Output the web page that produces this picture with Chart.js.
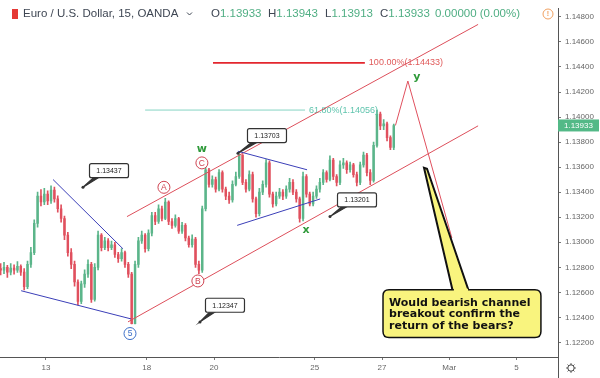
<!DOCTYPE html>
<html><head><meta charset="utf-8">
<script src="https://cdn.jsdelivr.net/npm/chart.js@4"></script>
<style>html,body{margin:0;padding:0;background:#fff;overflow:hidden}canvas{display:block}</style>
</head><body><canvas id="c" width="600" height="378"></canvas>
<script>
// ---- axis ticks (trading-day index, weekends removed) ----
const dayTicks = [0, 3, 5, 8, 10, 12, 14];
const dayLabels = ['13', '18', '20', '25', '27', 'Mar', '5'];
const priceTicks = [1.122, 1.124, 1.126, 1.128, 1.130, 1.132, 1.134, 1.136, 1.138, 1.140, 1.142, 1.144, 1.146, 1.148];

// ---- price series (one bar per 0.1 trading day) ----
const firstDay = -1.35;
const barStep = 0.1;
const firstOpen = 1.12790;
const closes = [
  1.12777, 1.12800, 1.12761, 1.12793, 1.12777, 1.12808, 1.12761, 1.12645, 1.12824, 1.12917,
  1.13151, 1.13369, 1.13322, 1.13385, 1.13330, 1.13416, 1.13346, 1.13268, 1.13190, 1.13057,
  1.12917, 1.12824, 1.12683, 1.12528, 1.12668, 1.12746, 1.12824, 1.12543, 1.12800, 1.13057,
  1.12956, 1.13011, 1.12956, 1.12980, 1.12902, 1.12870, 1.12917, 1.12824, 1.12746, 1.12350,
  1.12824, 1.13011, 1.13057, 1.12948, 1.13073, 1.13213, 1.13166, 1.13268, 1.13190, 1.13322,
  1.13166, 1.13135, 1.13190, 1.13089, 1.13135, 1.13034, 1.12980, 1.13026, 1.12824, 1.12777,
  1.13268, 1.13579, 1.13462, 1.13501, 1.13424, 1.13556, 1.13424, 1.13369, 1.13338, 1.13462,
  1.13525, 1.13696, 1.13478, 1.13424, 1.13540, 1.13346, 1.13229, 1.13400, 1.13462, 1.13634,
  1.13385, 1.13307, 1.13369, 1.13400, 1.13369, 1.13424, 1.13478, 1.13400, 1.13346, 1.13190,
  1.13525, 1.13385, 1.13307, 1.13369, 1.13424, 1.13478, 1.13556, 1.13501, 1.13657, 1.13525,
  1.13478, 1.13618, 1.13634, 1.13579, 1.13618, 1.13540, 1.13478, 1.13618, 1.13696, 1.13556,
  1.13494, 1.13774, 1.14023, 1.13930, 1.13945, 1.13836, 1.13758, 1.13933
];
const highs = [
  1.12830, 1.12840, 1.12815, 1.12830, 1.12820, 1.12845, 1.12820, 1.12790, 1.12850, 1.12960,
  1.13180, 1.13400, 1.13420, 1.13430, 1.13410, 1.13450, 1.13440, 1.13370, 1.13300, 1.13210,
  1.13080, 1.12950, 1.12850, 1.12700, 1.12690, 1.12780, 1.12860, 1.12840, 1.12830, 1.13090,
  1.13070, 1.13040, 1.13030, 1.13010, 1.13000, 1.12920, 1.12950, 1.12930, 1.12840, 1.12760,
  1.12850, 1.13040, 1.13090, 1.13070, 1.13100, 1.13240, 1.13240, 1.13300, 1.13290, 1.13350,
  1.13330, 1.13190, 1.13220, 1.13200, 1.13160, 1.13150, 1.13050, 1.13060, 1.13040, 1.12850,
  1.13290, 1.13600, 1.13590, 1.13530, 1.13520, 1.13580, 1.13570, 1.13440, 1.13400, 1.13490,
  1.13560, 1.13703, 1.13700, 1.13500, 1.13570, 1.13560, 1.13360, 1.13430, 1.13490, 1.13660,
  1.13650, 1.13400, 1.13400, 1.13430, 1.13420, 1.13450, 1.13510, 1.13500, 1.13420, 1.13360,
  1.13560, 1.13540, 1.13400, 1.13400, 1.13450, 1.13510, 1.13580, 1.13570, 1.13690, 1.13670,
  1.13540, 1.13650, 1.13670, 1.13650, 1.13640, 1.13630, 1.13560, 1.13640, 1.13720, 1.13710,
  1.13580, 1.13800, 1.14056, 1.14040, 1.13980, 1.13960, 1.13850, 1.13943
];
const lows = [
  1.12740, 1.12750, 1.12720, 1.12740, 1.12745, 1.12760, 1.12735, 1.12620, 1.12630, 1.12800,
  1.12900, 1.13120, 1.13290, 1.13300, 1.13300, 1.13310, 1.13320, 1.13240, 1.13160, 1.13020,
  1.12890, 1.12790, 1.12650, 1.12500, 1.12510, 1.12640, 1.12720, 1.12520, 1.12530, 1.12780,
  1.12930, 1.12940, 1.12930, 1.12940, 1.12880, 1.12840, 1.12850, 1.12800, 1.12720, 1.12347,
  1.12347, 1.12800, 1.12990, 1.12920, 1.12930, 1.13050, 1.13140, 1.13150, 1.13170, 1.13180,
  1.13140, 1.13110, 1.13120, 1.13070, 1.13070, 1.13010, 1.12960, 1.12960, 1.12800, 1.12750,
  1.12760, 1.13250, 1.13440, 1.13440, 1.13400, 1.13410, 1.13400, 1.13340, 1.13310, 1.13320,
  1.13450, 1.13510, 1.13460, 1.13400, 1.13410, 1.13320, 1.13200, 1.13210, 1.13380, 1.13440,
  1.13360, 1.13280, 1.13290, 1.13350, 1.13340, 1.13350, 1.13400, 1.13380, 1.13320, 1.13160,
  1.13170, 1.13360, 1.13290, 1.13290, 1.13350, 1.13400, 1.13460, 1.13480, 1.13490, 1.13500,
  1.13450, 1.13460, 1.13590, 1.13550, 1.13560, 1.13520, 1.13450, 1.13460, 1.13600, 1.13530,
  1.13460, 1.13480, 1.13760, 1.13900, 1.13900, 1.13810, 1.13740, 1.13740
];
const lastPrice = '1.13933';
const ohlc = [['O', '1.13933'], ['H', '1.13943'], ['L', '1.13913'], ['C', '1.13933']];
const changeText = '0.00000 (0.00%)';
const titleText = 'Euro / U.S. Dollar, 15, OANDA';

// ---- drawings (trading day, price) ----
const channelLines = [
  [2.41, 1.13205, 12.86, 1.14740],
  [2.44, 1.12364, 12.86, 1.13930]
];
const blueLines = [
  [0.21, 1.13501, 2.29, 1.12948],
  [-0.74, 1.12613, 2.53, 1.12388],
  [5.71, 1.13727, 7.77, 1.13579],
  [5.69, 1.13135, 8.16, 1.13346]
];
const fibLabels = ['100.00%(1.14433)', '61.80%(1.14056)'];
const fibPrices = [1.14433, 1.14056];
const fibFrom = [4.97, 2.95];
const fibTo = [9.49, 7.71];
const projection = [[10.40, 1.13933], [10.77, 1.14288], [12.08, 1.13034]];
const waveText = ['w', 'x', 'y'];
const wavePos = [[4.64, 1.13743], [7.74, 1.13096], [11.04, 1.14319]];
const circleText = ['A', 'C', 'B', '5'];
const circlePos = [[3.51, 1.13439], [4.64, 1.13634], [4.52, 1.12691], [2.50, 1.12271]];
const noteText = ['1.13437', '1.13703', '1.13201', '1.12347'];
const notePos = [[1.875, 1.13572], [6.577, 1.13852], [9.256, 1.13338], [5.327, 1.12497]];
const noteAnchor = [[1.101, 1.13439], [5.714, 1.13712], [8.452, 1.13205], [4.583, 1.12364]];
const calloutLines = ['Would bearish channel', 'breakout confirm the', 'return of the bears?'];
const calloutBox = [10.03, 1.12621, 14.73, 1.12239];
const calloutTip = [11.25, 1.13595];
const calloutBase = [12.11, 12.59];

const UP = '#5bb58a', DOWN = '#e0505e';

const bodies = closes.map((c, i) => ({ x: firstDay + i * barStep, y: [i === 0 ? firstOpen : closes[i - 1], c] }));
const wicks = closes.map((c, i) => ({ x: firstDay + i * barStep, y: [lows[i], highs[i]] }));
const colors = bodies.map(b => b.y[1] >= b.y[0] ? UP : DOWN);

function line(ctx, x1, y1, x2, y2) { ctx.beginPath(); ctx.moveTo(x1, y1); ctx.lineTo(x2, y2); ctx.stroke(); }
function rrect(ctx, x, y, w, h, r) {
  ctx.beginPath();
  ctx.moveTo(x + r, y); ctx.lineTo(x + w - r, y); ctx.quadraticCurveTo(x + w, y, x + w, y + r);
  ctx.lineTo(x + w, y + h - r); ctx.quadraticCurveTo(x + w, y + h, x + w - r, y + h);
  ctx.lineTo(x + r, y + h); ctx.quadraticCurveTo(x, y + h, x, y + h - r);
  ctx.lineTo(x, y + r); ctx.quadraticCurveTo(x, y, x + r, y); ctx.closePath();
}

const overlay = {
  id: 'overlay',
  afterDatasetsDraw(chart) {
    const { ctx, chartArea: a } = chart;
    const xs = chart.scales.x, ys = chart.scales.y;
    const X = d => xs.getPixelForValue(d), Y = p => ys.getPixelForValue(p);
    ctx.save();
    ctx.beginPath(); ctx.rect(a.left, a.top, a.right - a.left, a.bottom - a.top); ctx.clip();

    // fib levels
    fibPrices.forEach((p, i) => {
      ctx.strokeStyle = i === 0 ? '#e3262e' : '#86d4c4';
      ctx.lineWidth = i === 0 ? 1.6 : 1;
      line(ctx, X(fibFrom[i]), Y(p), X(fibTo[i]), Y(p));
      ctx.fillStyle = i === 0 ? '#e05a5a' : '#5fc4ad';
      ctx.font = '9px "Liberation Sans", Arial, sans-serif';
      ctx.textBaseline = 'middle'; ctx.textAlign = 'left';
      ctx.fillText(fibLabels[i], X(fibTo[i]) + 4, Y(p));
    });

    // channel
    ctx.strokeStyle = '#dd4f5b'; ctx.lineWidth = 1;
    channelLines.forEach(l => line(ctx, X(l[0]), Y(l[1]), X(l[2]), Y(l[3])));
    // blue lines
    ctx.strokeStyle = '#3b3fb8';
    blueLines.forEach(l => line(ctx, X(l[0]), Y(l[1]), X(l[2]), Y(l[3])));
    // projection
    ctx.strokeStyle = '#e0505e'; ctx.lineWidth = 1;
    ctx.beginPath();
    projection.forEach((p, i) => i ? ctx.lineTo(X(p[0]), Y(p[1])) : ctx.moveTo(X(p[0]), Y(p[1])));
    ctx.stroke();

    // wave labels
    ctx.fillStyle = '#2f9a3a'; ctx.font = 'bold 11px "DejaVu Sans", sans-serif';
    ctx.textAlign = 'center'; ctx.textBaseline = 'middle';
    waveText.forEach((t, i) => ctx.fillText(t, X(wavePos[i][0]), Y(wavePos[i][1])));

    // circle labels
    circleText.forEach((t, i) => {
      const cx = X(circlePos[i][0]), cy = Y(circlePos[i][1]);
      const col = t === '5' ? '#3c6fc8' : '#cf4452';
      ctx.fillStyle = '#fff'; ctx.strokeStyle = col; ctx.lineWidth = 1;
      ctx.beginPath(); ctx.arc(cx, cy, 6, 0, Math.PI * 2); ctx.fill(); ctx.stroke();
      ctx.fillStyle = col; ctx.font = '8.5px "Liberation Sans", Arial, sans-serif';
      ctx.fillText(t, cx, cy + 0.5);
    });

    // price notes
    noteText.forEach((t, i) => {
      const cx = X(notePos[i][0]), cy = Y(notePos[i][1]);
      const ax = X(noteAnchor[i][0]), ay = Y(noteAnchor[i][1]);
      const w = 39, h = 14, bx = cx - w / 2, by = cy - h / 2;
      ctx.strokeStyle = '#333'; ctx.lineWidth = 1.2;
      ctx.fillStyle = '#333';
      ctx.beginPath(); ctx.moveTo(bx + 4, by + h); ctx.lineTo(ax, ay); ctx.lineTo(bx + 9, by + h); ctx.closePath(); ctx.fill(); ctx.stroke();
      ctx.beginPath(); ctx.arc(ax, ay, 1.5, 0, Math.PI * 2); ctx.fill();
      ctx.fillStyle = '#fff';
      rrect(ctx, bx, by, w, h, 2); ctx.fill(); ctx.stroke();
      ctx.fillStyle = '#222'; ctx.font = '7px "Liberation Sans", Arial, sans-serif';
      ctx.textAlign = 'center'; ctx.textBaseline = 'middle';
      ctx.fillText(t, cx, cy + 0.5);
    });

    // yellow callout
    const bx1 = X(calloutBox[0]), by1 = Y(calloutBox[1]), bx2 = X(calloutBox[2]), by2 = Y(calloutBox[3]);
    const tx = X(calloutTip[0]), ty = Y(calloutTip[1]);
    const b1 = X(calloutBase[0]), b2 = X(calloutBase[1]);
    ctx.fillStyle = '#f9f47e'; ctx.strokeStyle = '#111'; ctx.lineWidth = 2;
    ctx.beginPath(); ctx.moveTo(b1, by1 + 2); ctx.lineTo(tx, ty); ctx.lineTo(tx + 3, ty + 1); ctx.lineTo(b2, by1 + 2); ctx.closePath();
    ctx.fill(); ctx.stroke();
    ctx.lineWidth = 1.5;
    rrect(ctx, bx1, by1, bx2 - bx1, by2 - by1, 6); ctx.fill(); ctx.stroke();
    ctx.fillStyle = '#f9f47e';
    ctx.fillRect(b1 + 1, by1 - 1, b2 - b1 - 2, 4);
    ctx.fillStyle = '#111'; ctx.font = 'bold 11px "DejaVu Sans", Verdana, sans-serif';
    ctx.textAlign = 'left'; ctx.textBaseline = 'middle';
    calloutLines.forEach((t, i) => ctx.fillText(t, bx1 + 6, by1 + 13 + i * 11.5));
    ctx.restore();
  },
  afterDraw(chart) {
    const { ctx, chartArea: a } = chart;
    const ys = chart.scales.y;
    ctx.save();
    // header
    ctx.fillStyle = '#e53935'; ctx.fillRect(12, 9, 6, 10);
    ctx.fillStyle = '#3e4653'; ctx.font = '11.5px "Liberation Sans", Arial, sans-serif';
    ctx.textAlign = 'left'; ctx.textBaseline = 'middle';
    ctx.fillText(titleText, 23, 14);
    ctx.strokeStyle = '#3e4653'; ctx.lineWidth = 1;
    ctx.beginPath(); ctx.moveTo(187, 12.5); ctx.lineTo(189.5, 15); ctx.lineTo(192, 12.5); ctx.stroke();
    const ox = [211, 268, 325, 380];
    ohlc.forEach((o, i) => {
      ctx.fillStyle = '#3e4653'; ctx.fillText(o[0], ox[i], 14);
      const w = ctx.measureText(o[0]).width;
      ctx.fillStyle = '#4fae83'; ctx.fillText(o[1], ox[i] + w, 14);
    });
    ctx.fillStyle = '#4fae83'; ctx.fillText(changeText, 435, 14);
    ctx.strokeStyle = '#f0a060'; ctx.lineWidth = 1;
    ctx.beginPath(); ctx.arc(548, 14, 5, 0, Math.PI * 2); ctx.stroke();
    ctx.fillStyle = '#f0a060'; ctx.font = 'bold 7px "Liberation Sans", Arial, sans-serif';
    ctx.textAlign = 'center'; ctx.fillText('!', 548, 14.5);
    // last price badge
    const py = ys.getPixelForValue(parseFloat(lastPrice));
    ctx.fillStyle = '#53b987'; ctx.fillRect(a.right, py - 6, 41, 12);
    ctx.fillStyle = '#fff'; ctx.font = '8px "Liberation Sans", Arial, sans-serif';
    ctx.textAlign = 'left'; ctx.fillText(lastPrice, a.right + 6, py + 0.5);
    // bottom-right corner
    ctx.strokeStyle = '#555'; ctx.lineWidth = 1;
    line(ctx, a.right + 0.5, a.bottom, a.right + 0.5, 378);
    ctx.strokeStyle = '#444';
    ctx.beginPath(); ctx.arc(571, 368, 3.2, 0, Math.PI * 2); ctx.stroke();
    for (let k = 0; k < 8; k++) {
      const ang = k * Math.PI / 4;
      line(ctx, 571 + Math.cos(ang) * 3.2, 368 + Math.sin(ang) * 3.2, 571 + Math.cos(ang) * 4.8, 368 + Math.sin(ang) * 4.8);
    }
    ctx.restore();
  }
};

new Chart(document.getElementById('c'), {
  type: 'bar',
  data: {
    datasets: [
      { data: wicks, backgroundColor: colors, borderWidth: 0, barThickness: 1, grouped: false, order: 2 },
      { data: bodies, backgroundColor: colors, borderWidth: 0, barThickness: 1.8, minBarLength: 1, grouped: false, order: 1 }
    ]
  },
  options: {
    responsive: false,
    animation: false,
    devicePixelRatio: 1,
    layout: { padding: 0 },
    plugins: { legend: { display: false }, tooltip: { enabled: false } },
    scales: {
      x: {
        type: 'linear', position: 'bottom', offset: false,
        min: -1.369, max: 15.238,
        afterBuildTicks: s => { s.ticks = dayTicks.map(v => ({ value: v })); },
        ticks: {
          autoSkip: false, maxRotation: 0, padding: 3, color: '#666',
          font: { size: 8, family: '"Liberation Sans", Arial, sans-serif' },
          callback: (v, i) => dayLabels[i]
        },
        grid: { drawOnChartArea: false, tickLength: 3, color: '#777', offset: false },
        border: { color: '#555', width: 1 },
        afterFit: s => { s.height = 21; }
      },
      y: {
        position: 'right',
        min: 1.120837, max: 1.148647,
        afterBuildTicks: s => { s.ticks = priceTicks.map(v => ({ value: v })); },
        ticks: {
          padding: 4, color: '#666',
          font: { size: 8, family: '"Liberation Sans", Arial, sans-serif' },
          callback: v => v.toFixed(5)
        },
        grid: { drawOnChartArea: false, tickLength: 3, color: '#777' },
        border: { color: '#555', width: 1 },
        afterFit: s => { s.width = 42; }
      }
    }
  },
  plugins: [overlay]
});
</script></body></html>
